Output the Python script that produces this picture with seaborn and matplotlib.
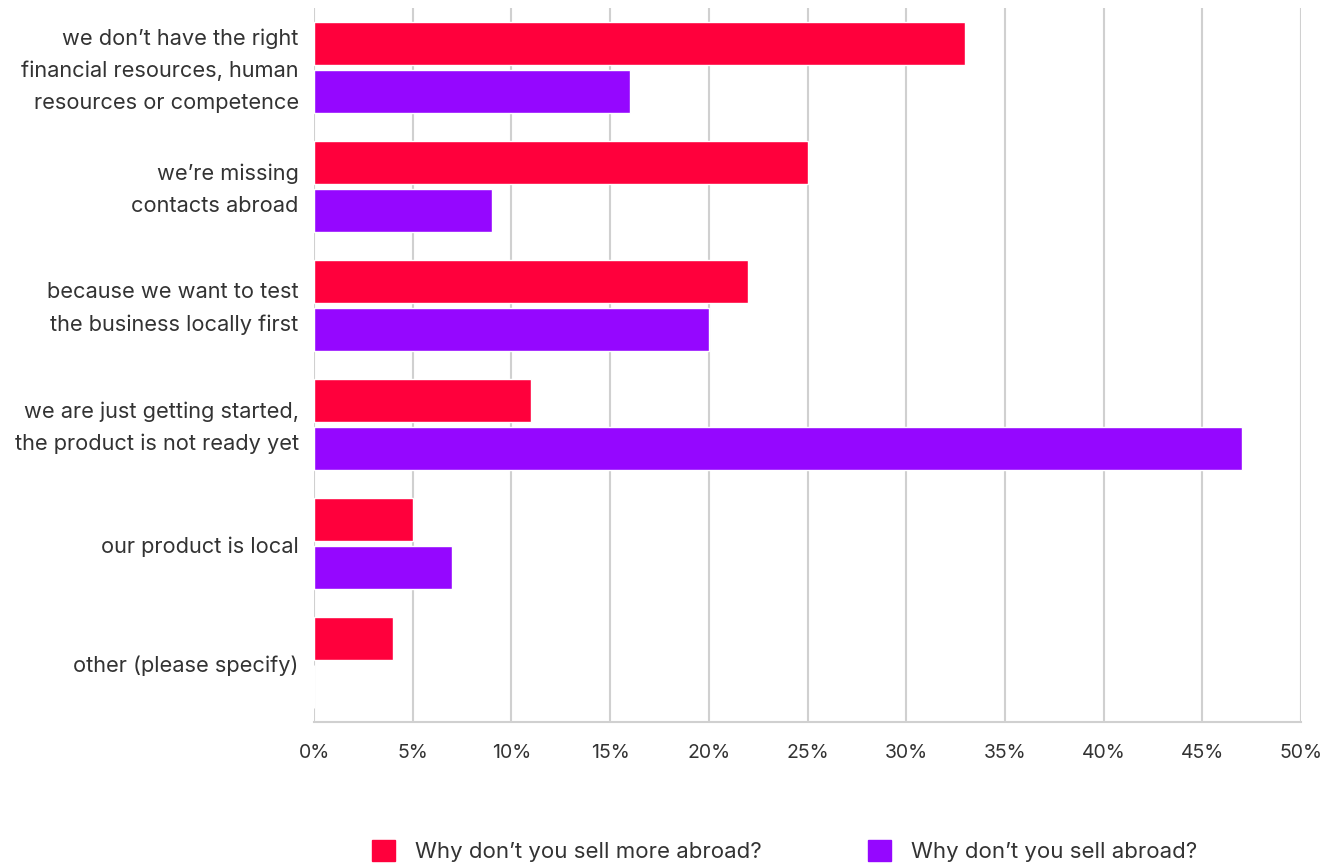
import matplotlib
matplotlib.use("Agg")
import matplotlib.pyplot as plt
import matplotlib.patches as mpatches
import matplotlib.transforms as mtransforms
from matplotlib.ticker import FuncFormatter
import seaborn as sns
import pandas as pd

# Survey answers (percent of respondents)
reasons = [
    "we don\u2019t have the right\nfinancial resources, human\nresources or competence",
    "we\u2019re missing\ncontacts abroad",
    "because we want to test\nthe business locally first",
    "we are just getting started,\nthe product is not ready yet",
    "our product is local",
    "other (please specify)",
]
series_names = ["Why don\u2019t you sell more abroad?", "Why don\u2019t you sell abroad?"]
sell_more_abroad = [33, 25, 22, 11, 5, 4]
sell_abroad = [16, 9, 20, 47, 7, 0]
x_ticks = [0, 5, 10, 15, 20, 25, 30, 35, 40, 45, 50]

colors = ["#ff003c", "#9507ff"]
text_color = "#333333"
grid_color = "#d0d0d0"

df = pd.DataFrame({
    "reason": reasons * 2,
    "value": sell_more_abroad + sell_abroad,
    "series": [series_names[0]] * len(reasons) + [series_names[1]] * len(reasons),
})

sns.set_theme(style="white")
plt.rcParams["font.family"] = ["Inter", "DejaVu Sans"]

fig = plt.figure(figsize=(13.37, 8.65), dpi=100)
ax = fig.add_axes([314 / 1337, 1 - 722 / 865, (1301 - 314) / 1337, (722 - 8) / 865])

sns.barplot(
    data=df, x="value", y="reason", hue="series", order=reasons,
    hue_order=series_names, palette=colors, width=0.8, gap=0.1,
    saturation=1, ax=ax, legend=False, errorbar=None,
)

ax.set_xlim(0, 50)
ax.set_ylim(len(reasons) - 0.5, -0.5)
ax.set_xticks(x_ticks)
ax.xaxis.set_major_formatter(FuncFormatter(lambda v, _: f"{v:.0f}%"))
ax.set_xlabel("")
ax.set_ylabel("")

ax.grid(axis="x", color=grid_color, linewidth=1.5)
ax.grid(axis="y", visible=False)
ax.set_axisbelow(True)
for side in ["top", "right", "left"]:
    ax.spines[side].set_visible(False)
ax.spines["bottom"].set_color(grid_color)
ax.spines["bottom"].set_linewidth(1.5)

ax.tick_params(axis="x", length=0, pad=16, labelsize=14, labelcolor=text_color)
ax.tick_params(axis="y", length=0, pad=11, labelsize=15.7, labelcolor=text_color)
nudge = mtransforms.ScaledTranslation(0, -3 / 100, fig.dpi_scale_trans)
for lbl in ax.get_yticklabels():
    lbl.set_linespacing(1.72)
    lbl.set_horizontalalignment("right")
    lbl.set_verticalalignment("center")
    lbl.set_transform(lbl.get_transform() + nudge)

handles = [mpatches.Patch(color=c, label=n) for c, n in zip(colors, series_names)]
fig.legend(
    handles=handles, loc="center", bbox_to_anchor=(0.5868, 1 - 851 / 865),
    ncol=2, frameon=False, fontsize=16, handlelength=1.05, handleheight=1.05,
    handletextpad=0.9, columnspacing=4.75, labelcolor=text_color,
)

fig.savefig("out.png", dpi=100, facecolor="white")
